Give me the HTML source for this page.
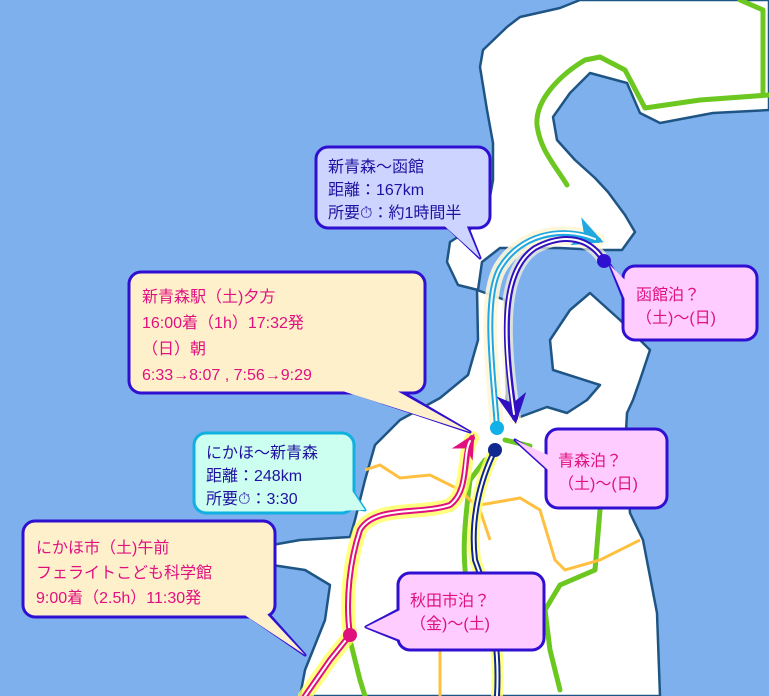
<!DOCTYPE html>
<html><head><meta charset="utf-8"><style>
html,body{margin:0;padding:0;background:#7fb0ee;}
svg{display:block}
text{font-family:"Liberation Sans","Noto Sans CJK JP",sans-serif;font-size:16px;}
</style></head><body>
<svg width="769" height="696" viewBox="0 0 769 696" xmlns="http://www.w3.org/2000/svg">
<defs>
<marker id="ab" viewBox="0 0 10 10" refX="8" refY="5" markerWidth="5" markerHeight="5" orient="auto"><path d="M0,0 L10,5 L0,10 L3,5 Z" fill="#20a8e0"/></marker>
<marker id="ap" viewBox="0 0 10 10" refX="8" refY="5" markerWidth="5" markerHeight="5" orient="auto"><path d="M0,0 L10,5 L0,10 L3,5 Z" fill="#3010c0"/></marker>
<marker id="ar" viewBox="0 0 10 10" refX="8" refY="5" markerWidth="4" markerHeight="4" orient="auto"><path d="M0,0 L10,5 L0,10 L3,5 Z" fill="#e0107f"/></marker>
</defs>
<rect width="769" height="696" fill="#7fb0ee"/>
<g fill="#fff" stroke="#1f5584" stroke-width="2.5" stroke-linejoin="round">
<path d="M580,0 L769,0 L769,110 L713,113 L660,123 L640,113 L627,83 L590,73 L570,93 L553,117 L557,140 L575,160 L595,178 L608,192 L625,215 L635,232 L622,250 L600,250 L560,248 L500,248 L482,262 L478,290 L458,285 L447,262 L450,242 L472,228 L487,213 L493,180 L493,143 L487,110 L480,67 L483,50 L507,27 L520,17 L560,8 Z"/>
<path d="M477,290 L505,300 L507,400 L520,417 L547,407 L567,413 L587,400 L600,385 L553,370 L550,340 L570,310 L590,293 L620,320 L650,350 L640,380 L633,400 L627,413 L625,450 L630,513 L643,540 L657,613 L660,696 L300,696 L305,670 L325,620 L330,585 L305,570 L272,565 L272,545 L300,540 L350,537 L355,520 L365,480 L375,445 L400,420 L440,398 L468,375 L478,340 Z"/>
</g>
<path d="M600,386 L553,370 L550,340" fill="none" stroke="none"/>
<g fill="none" stroke="#6cc820" stroke-width="5" stroke-linecap="round" stroke-linejoin="round">
<path d="M567,185 C555,165 540,150 537,125 C535,100 560,75 585,60 L600,57 L625,70 L645,108 L700,100 L769,95"/>
<path d="M740,0 L763,10 L763,95"/>
<path d="M505,440 L530,446"/>
<path d="M470,600 C460,560 465,520 470,480 L485,460"/>
<path d="M600,510 L595,570 L560,585 L545,610 L550,650 L560,690"/>
<path d="M350,640 L360,680 L365,696"/>
</g>
<g fill="none" stroke="#ffc040" stroke-width="3">
<path d="M365,470 L380,465 L400,478 L430,475 L460,490 L480,510 L490,540"/>
<path d="M480,505 L520,498 L540,510 L555,560 L565,570 L600,560 L640,540"/>
<path d="M410,620 L440,650 L440,696"/>
</g>
<g fill="none" stroke-linecap="round" stroke-linejoin="round">
<path d="M305,696 L330,660 L350,635 C345,600 350,560 360,530 C375,505 420,515 450,505 C470,490 462,455 472,438" stroke="#ffff60" stroke-width="14" opacity=".8"/>
<path d="M305,696 L330,660 L350,635 C345,600 350,560 360,530 C375,505 420,515 450,505 C470,490 462,455 472,438" stroke="#e0107f" stroke-width="6" marker-end="url(#ar)"/>
<path d="M305,696 L330,660 L350,635 C345,600 350,560 360,530 C375,505 420,515 450,505 C470,490 462,455 470,441" stroke="#fff" stroke-width="2"/>
<path d="M495,450 C480,480 470,520 475,560 C490,600 500,640 497,696" stroke="#ffff60" stroke-width="12" opacity=".8"/>
<path d="M495,450 C480,480 470,520 475,560 C490,600 500,640 497,696" stroke="#102890" stroke-width="6"/>
<path d="M495,450 C480,480 470,520 475,560 C490,600 500,640 497,696" stroke="#fff" stroke-width="2"/>
<path d="M497,428 C494,380 482,300 500,268 C520,235 560,225 598,240" stroke="#fff6d8" stroke-width="14" opacity=".9"/>
<path d="M604,261 C590,238 565,232 535,248 C505,268 500,320 515,418" stroke="#fff6d8" stroke-width="12" opacity=".7"/>
<path d="M497,428 C494,380 482,300 500,268 C520,235 560,225 598,240" stroke="#20a8e0" stroke-width="6" marker-end="url(#ab)"/>
<path d="M497,428 C494,380 482,300 500,268 C520,235 560,225 595,239" stroke="#fff" stroke-width="2"/>
<path d="M604,261 C590,238 565,232 535,248 C505,268 500,320 515,418" stroke="#3010c0" stroke-width="6" marker-end="url(#ap)"/>
<path d="M604,261 C590,238 565,232 535,248 C505,268 500,320 514,414" stroke="#fff" stroke-width="2"/>
</g>
<circle cx="350" cy="635" r="7" fill="#e0107f"/>
<circle cx="497" cy="428" r="7" fill="#10b0e8"/>
<circle cx="495" cy="450" r="7" fill="#102890"/>
<circle cx="604" cy="261" r="7" fill="#3010d0"/>
<g stroke="#3010d0" stroke-width="3" stroke-linejoin="round">
<polygon points="440,220 480,258 465,220" fill="#ccd4ff"/>
<rect x="316" y="147" width="174" height="81" rx="12" fill="#ccd4ff"/>
<polygon points="440,222 480,258 465,222" fill="#ccd4ff" stroke="none"/>
<polygon points="330,385 470,432 390,385" fill="#fff0cc"/>
<rect x="129" y="272" width="296" height="121" rx="12" fill="#fff0cc"/>
<polygon points="330,387 470,432 390,387" fill="#fff0cc" stroke="none"/>
<polygon points="540,455 515,440 548,470" fill="#ffccff"/>
<rect x="546" y="429" width="121" height="79" rx="12" fill="#ffccff"/>
<polygon points="548,455 515,440 548,470" fill="#ffccff" stroke="none"/>
<polygon points="620,280 610,265 624,300" fill="#ffccff"/>
<rect x="623" y="266" width="134" height="74" rx="12" fill="#ffccff"/>
<polygon points="625,280 610,265 625,300" fill="#ffccff" stroke="none"/>
<polygon points="240,610 305,655 265,610" fill="#fff0cc"/>
<rect x="23" y="521" width="252" height="96" rx="12" fill="#fff0cc"/>
<polygon points="240,612 305,655 265,612" fill="#fff0cc" stroke="none"/>
<polygon points="398,610 366,627 398,640" fill="#ffccff"/>
<rect x="398" y="573" width="146" height="77" rx="12" fill="#ffccff"/>
<polygon points="400,610 366,627 400,640" fill="#ffccff" stroke="none"/>
</g>
<g stroke="#10b0e0" stroke-width="3" stroke-linejoin="round">
<polygon points="330,505 365,510 345,480" fill="#ccfff0"/>
<rect x="194" y="433" width="160" height="80" rx="12" fill="#ccfff0"/>
<polygon points="330,511 365,510 345,480" fill="#ccfff0" stroke="none"/>
</g>
<g fill="#2010a0">
<text x="328" y="172">新青森～函館</text>
<text x="328" y="195">距離：167km</text>
<text x="328" y="218">所要⏱：約1時間半</text>
<text x="206" y="458">にかほ～新青森</text>
<text x="206" y="481">距離：248km</text>
<text x="206" y="504">所要⏱：3:30</text>
</g>
<g fill="#e0107f">
<text x="142" y="302">新青森駅（土)夕方</text>
<text x="142" y="328">16:00着（1h）17:32発</text>
<text x="142" y="354">（日）朝</text>
<text x="142" y="380">6:33→8:07 , 7:56→9:29</text>
<text x="36" y="553">にかほ市（土)午前</text>
<text x="36" y="578">フェライトこども科学館</text>
<text x="36" y="603">9:00着（2.5h）11:30発</text>
<text x="410" y="606">秋田市泊？</text>
<text x="410" y="629">（金)～(土)</text>
<text x="558" y="466">青森泊？</text>
<text x="558" y="489">（土)～(日)</text>
<text x="636" y="300">函館泊？</text>
<text x="636" y="323">（土)～(日)</text>
</g>
</svg>
</body></html>
